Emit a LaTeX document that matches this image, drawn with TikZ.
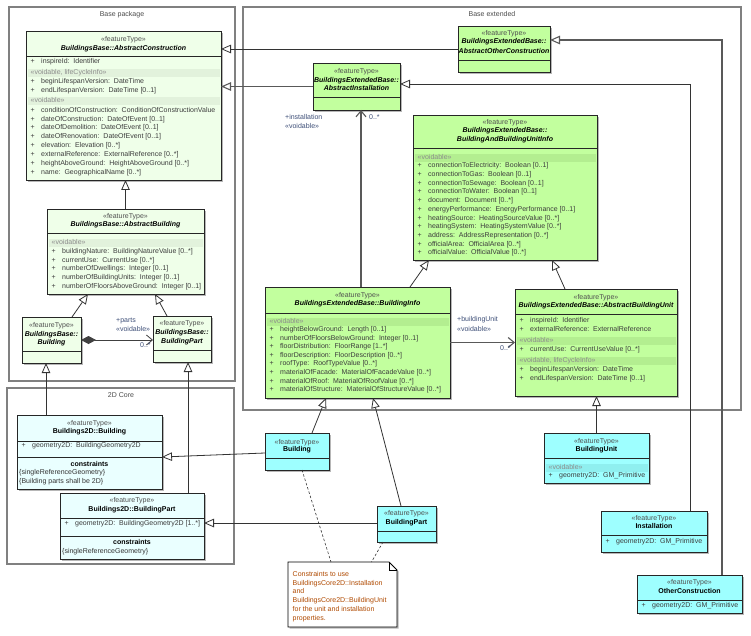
\documentclass[tikz,border=0pt]{standalone}
\usepackage{fontspec}
\setmainfont{Liberation Sans}
\usetikzlibrary{arrows.meta,shadows}

\definecolor{baseGreen}{HTML}{EFFFE9}
\definecolor{baseBand}{HTML}{E2F2DC}
\definecolor{extGreen}{HTML}{C2FF9E}
\definecolor{extBand}{HTML}{B3EE90}
\definecolor{coreCyan}{HTML}{EAFFFF}
\definecolor{featCyan}{HTML}{9EFFFF}
\definecolor{featBand}{HTML}{8FEFEF}
\definecolor{frameGray}{HTML}{808080}
\definecolor{attrText}{HTML}{3C3C3C}
\definecolor{stereoText}{HTML}{505050}
\definecolor{roleText}{HTML}{3E4F78}
\definecolor{noteText}{HTML}{B04A00}

\newcommand{\umlfont}{\fontsize{7}{8}\selectfont}
\newcommand{\attrline}[1]{\makebox[10.5pt][l]{+}#1}

\tikzset{
  cls/.style={draw=black!85, line width=0.9pt, anchor=north west, inner sep=0, outer sep=0,
    drop shadow={shadow xshift=1.6pt, shadow yshift=-1.6pt, fill=black!35, opacity=0.8}},
  sep/.style={draw=black!85, line width=0.9pt},
  pkg/.style={draw=frameGray, line width=1.3pt},
  txt/.style={inner sep=0, text height=5pt, text depth=1.4pt, font=\umlfont},
  pkglbl/.style={txt, text=black!70},
  stereo/.style={txt, text=stereoText},
  cname/.style={txt, font=\umlfont\bfseries\itshape},
  cnamer/.style={txt, font=\umlfont\bfseries},
  attr/.style={txt, anchor=west, text=attrText},
  sect/.style={txt, anchor=west, text=black!45},
  role/.style={txt, anchor=west, text=roleText},
  noteln/.style={txt, anchor=west, text=noteText},
  gen/.style={draw=black!80, line width=0.8pt, -{Triangle[length=10pt,width=8.5pt,fill=white]}},
  assoc/.style={draw=black!65, line width=1.1pt, -{Straight Barb[length=6pt,width=10pt]}},
  notelink/.style={draw=black!80, line width=0.6pt, dash pattern=on 2.5pt off 2pt}
}

\begin{document}
\begin{tikzpicture}[x=1pt, y=-1pt, font=\umlfont]
\fill[white] (0,0) rectangle (751,636);
\useasboundingbox (0,0) rectangle (751,636);

% packages
\draw[pkg] (9,7) rectangle (235,381);
\node[pkglbl] (basePkg) at (122,15) {Base package};
\draw[pkg] (243,7) rectangle (741,410);
\node[pkglbl] (extPkg) at (492,15) {Base extended};
\draw[pkg] (7,388) rectangle (234,564);
\node[pkglbl] (corePkg) at (121,396) {2D Core};

% BuildingsBase::AbstractConstruction
\node[cls, fill=baseGreen, minimum width=195, minimum height=149] (absCon) at (26,31) {};
\node[stereo] (absConSt) at (123.5,40) {«featureType»};
\node[cname] (absConNm) at (123.5,48.5) {BuildingsBase::AbstractConstruction};
\draw[sep] (26,56) -- (221,56);
\node[attr] (acId) at (30.5,62) {\attrline{inspireId:~~Identifier}};
\fill[baseBand] (27.5,69) rectangle (219.5,77);
\node[sect] (acS1) at (30.5,73) {«voidable, lifeCycleInfo»};
\foreach \y/\t [count=\i] in {82/{beginLifespanVersion:~~DateTime}, 91/{endLifespanVersion:~~DateTime [0..1]}}
  \node[attr] (acL\i) at (30.5,\y) {\attrline{\t}};
\fill[baseBand] (27.5,97) rectangle (219.5,105);
\node[sect] (acS2) at (30.5,101) {«voidable»};
\foreach \y/\t [count=\i] in {110.5/{conditionOfConstruction:~~ConditionOfConstructionValue},
    119.3/{dateOfConstruction:~~DateOfEvent [0..1]}, 128/{dateOfDemolition:~~DateOfEvent [0..1]},
    136.7/{dateOfRenovation:~~DateOfEvent [0..1]}, 145.7/{elevation:~~Elevation [0..*]},
    154.5/{externalReference:~~ExternalReference [0..*]}, 163.3/{heightAboveGround:~~HeightAboveGround [0..*]},
    172.3/{name:~~GeographicalName [0..*]}}
  \node[attr] (acV\i) at (30.5,\y) {\attrline{\t}};

% BuildingsBase::AbstractBuilding
\node[cls, fill=baseGreen, minimum width=157, minimum height=85] (absBld) at (47,209) {};
\node[stereo] (absBldSt) at (125.5,216.7) {«featureType»};
\node[cname] (absBldNm) at (125.5,225) {BuildingsBase::AbstractBuilding};
\draw[sep] (47,233) -- (204,233);
\fill[baseBand] (48.5,238.5) rectangle (202.5,246.5);
\node[sect] (abS1) at (51.5,242.5) {«voidable»};
\foreach \y/\t [count=\i] in {251.7/{buildingNature:~~BuildingNatureValue [0..*]}, 260.3/{currentUse:~~CurrentUse [0..*]},
    269/{numberOfDwellings:~~Integer [0..1]}, 277.7/{numberOfBuildingUnits:~~Integer [0..1]},
    286.5/{numberOfFloorsAboveGround:~~Integer [0..1]}}
  \node[attr] (abV\i) at (51.5,\y) {\attrline{\t}};

% BuildingsBase::Building and BuildingPart
\node[cls, fill=baseGreen, minimum width=59, minimum height=46] (bldBase) at (22,317) {};
\node[stereo] (bldBaseSt) at (51.5,326) {«featureType»};
\node[cname] (bldBaseNm) at (51.5,334.5) {BuildingsBase::};
\node[cname] (bldBaseNm2) at (51.5,343) {Building};
\draw[sep] (22,351) -- (81,351);
\node[cls, fill=baseGreen, minimum width=58, minimum height=46] (bpBase) at (153,316) {};
\node[stereo] (bpBaseSt) at (182,324) {«featureType»};
\node[cname] (bpBaseNm) at (182,332.5) {BuildingsBase::};
\node[cname] (bpBaseNm2) at (182,341.5) {BuildingPart};
\draw[sep] (153,350) -- (211,350);

% Buildings2D::Building
\node[cls, fill=coreCyan, minimum width=145, minimum height=74] (bld2D) at (17,415) {};
\node[stereo] (bld2DSt) at (89.5,423.5) {«featureType»};
\node[cnamer] (bld2DNm) at (89.5,432) {Buildings2D::Building};
\draw[sep] (17,441) -- (162,441);
\node[attr] (b2Geom) at (21.5,446) {\attrline{geometry2D:~~BuildingGeometry2D}};
\draw[sep] (17,457) -- (162,457);
\node[cnamer] (b2Con) at (89.5,464.5) {constraints};
\node[attr, text=black!80] (b2C1) at (19,473) {\{singleReferenceGeometry\}};
\node[attr, text=black!80] (b2C2) at (19,481.7) {\{Building parts shall be 2D\}};

% Buildings2D::BuildingPart
\node[cls, fill=coreCyan, minimum width=144, minimum height=66] (bp2D) at (60,493) {};
\node[stereo] (bp2DSt) at (132,501) {«featureType»};
\node[cnamer] (bp2DNm) at (132,510) {Buildings2D::BuildingPart};
\draw[sep] (60,518) -- (204,518);
\node[attr] (p2Geom) at (64.5,524) {\attrline{geometry2D:~~BuildingGeometry2D [1..*]}};
\draw[sep] (60,536) -- (204,536);
\node[cnamer] (p2Con) at (132,543) {constraints};
\node[attr, text=black!80] (p2C1) at (62,551.7) {\{singleReferenceGeometry\}};

% BuildingsExtendedBase::AbstractOtherConstruction
\node[cls, fill=extGreen, minimum width=92, minimum height=46] (aoc) at (458,26) {};
\node[stereo] (aocSt) at (504,33.5) {«featureType»};
\node[cname] (aocNm) at (504,42) {BuildingsExtendedBase::};
\node[cname] (aocNm2) at (504,51.5) {AbstractOtherConstruction};
\draw[sep] (458,60) -- (550,60);

% BuildingsExtendedBase::AbstractInstallation
\node[cls, fill=extGreen, minimum width=87, minimum height=47] (ainst) at (313,63) {};
\node[stereo] (ainstSt) at (356.5,71.7) {«featureType»};
\node[cname] (ainstNm) at (356.5,80.3) {BuildingsExtendedBase::};
\node[cname] (ainstNm2) at (356.5,89) {AbstractInstallation};
\draw[sep] (313,97) -- (400,97);

% BuildingsExtendedBase::BuildingAndBuildingUnitInfo
\node[cls, fill=extGreen, minimum width=184, minimum height=145] (bbui) at (413,115) {};
\node[stereo] (bbuiSt) at (505,122.7) {«featureType»};
\node[cname] (bbuiNm) at (505,130.7) {BuildingsExtendedBase::};
\node[cname] (bbuiNm2) at (505,140) {BuildingAndBuildingUnitInfo};
\draw[sep] (413,148) -- (597,148);
\fill[extBand] (414.5,154) rectangle (595.5,162);
\node[sect] (buS1) at (417.5,158) {«voidable»};
\foreach \y/\t [count=\i] in {166/{connectionToElectricity:~~Boolean [0..1]}, 174.7/{connectionToGas:~~Boolean [0..1]},
    183.3/{connectionToSewage:~~Boolean [0..1]}, 192/{connectionToWater:~~Boolean [0..1]},
    200.7/{document:~~Document [0..*]}, 209.3/{energyPerformance:~~EnergyPerformance [0..1]},
    218.3/{heatingSource:~~HeatingSourceValue [0..*]}, 226.7/{heatingSystem:~~HeatingSystemValue [0..*]},
    235.7/{address:~~AddressRepresentation [0..*]}, 244.7/{officialArea:~~OfficialArea [0..*]},
    253/{officialValue:~~OfficialValue [0..*]}}
  \node[attr] (buV\i) at (417.5,\y) {\attrline{\t}};

% BuildingsExtendedBase::BuildingInfo
\node[cls, fill=extGreen, minimum width=185, minimum height=111] (binfo) at (265,287) {};
\node[stereo] (binfoSt) at (357.5,295.3) {«featureType»};
\node[cname] (binfoNm) at (357.5,304) {BuildingsExtendedBase::BuildingInfo};
\draw[sep] (265,313) -- (450,313);
\fill[extBand] (266.5,318) rectangle (448.5,326);
\node[sect] (biS1) at (269.5,321.7) {«voidable»};
\foreach \y/\t [count=\i] in {330/{heightBelowGround:~~Length [0..1]}, 338.3/{numberOfFloorsBelowGround:~~Integer [0..1]},
    347/{floorDistribution:~~FloorRange [1..*]}, 355.7/{floorDescription:~~FloorDescription [0..*]},
    364/{roofType:~~RoofTypeValue [0..*]}, 372.7/{materialOfFacade:~~MaterialOfFacadeValue [0..*]},
    381.3/{materialOfRoof:~~MaterialOfRoofValue [0..*]}, 389.7/{materialOfStructure:~~MaterialOfStructureValue [0..*]}}
  \node[attr] (biV\i) at (269.5,\y) {\attrline{\t}};

% BuildingsExtendedBase::AbstractBuildingUnit
\node[cls, fill=extGreen, minimum width=162, minimum height=107] (abu) at (515,289) {};
\node[stereo] (abuSt) at (596,297.3) {«featureType»};
\node[cname] (abuNm) at (596,305.7) {BuildingsExtendedBase::AbstractBuildingUnit};
\draw[sep] (515,314) -- (677,314);
\node[attr] (auId) at (519.5,321) {\attrline{inspireId:~~Identifier}};
\node[attr] (auRef) at (519.5,330) {\attrline{externalReference:~~ExternalReference}};
\fill[extBand] (516.5,336.5) rectangle (675.5,344.5);
\node[sect] (auS1) at (519.5,340.7) {«voidable»};
\node[attr] (auUse) at (519.5,349.3) {\attrline{currentUse:~~CurrentUseValue [0..*]}};
\fill[extBand] (516.5,356.5) rectangle (675.5,364.5);
\node[sect] (auS2) at (519.5,360.7) {«voidable, lifeCycleInfo»};
\node[attr] (auL1) at (519.5,369.3) {\attrline{beginLifespanVersion:~~DateTime}};
\node[attr] (auL2) at (519.5,378.3) {\attrline{endLifespanVersion:~~DateTime [0..1]}};

% feature types outside the packages
\node[cls, fill=featCyan, minimum width=64, minimum height=37] (bldC) at (265,433) {};
\node[stereo] (bldCSt) at (297,442.7) {«featureType»};
\node[cnamer] (bldCNm) at (297,450) {Building};
\draw[sep] (265,458) -- (329,458);

\node[cls, fill=featCyan, minimum width=59, minimum height=36] (bpC) at (377,506) {};
\node[stereo] (bpCSt) at (406.5,514) {«featureType»};
\node[cnamer] (bpCNm) at (406.5,523) {BuildingPart};
\draw[sep] (377,531) -- (436,531);

\node[cls, fill=featCyan, minimum width=105, minimum height=50] (bu) at (544,433) {};
\node[stereo] (buSt) at (596.5,441.7) {«featureType»};
\node[cnamer] (buNm) at (596.5,450) {BuildingUnit};
\draw[sep] (544,458) -- (649,458);
\fill[featBand] (545.5,463.5) rectangle (647.5,471.5);
\node[sect] (buCS) at (548.5,467.7) {«voidable»};
\node[attr] (buGeom) at (548.5,475.7) {\attrline{geometry2D:~~GM\_Primitive}};

\node[cls, fill=featCyan, minimum width=106, minimum height=41] (inst) at (601,511) {};
\node[stereo] (instSt) at (654,518.3) {«featureType»};
\node[cnamer] (instNm) at (654,526.7) {Installation};
\draw[sep] (601,535) -- (707,535);
\node[attr] (instGeom) at (605.5,542) {\attrline{geometry2D:~~GM\_Primitive}};

\node[cls, fill=featCyan, minimum width=105, minimum height=38] (oc) at (637,575) {};
\node[stereo] (ocSt) at (689.5,582.7) {«featureType»};
\node[cnamer] (ocNm) at (689.5,591.3) {OtherConstruction};
\draw[sep] (637,600) -- (742,600);
\node[attr] (ocGeom) at (641.5,606) {\attrline{geometry2D:~~GM\_Primitive}};

% note
\node[minimum width=109, minimum height=65, anchor=north west, inner sep=0, outer sep=0] (note) at (288,562) {};
\draw[fill=white, line width=0.8pt, drop shadow={shadow xshift=1.6pt, shadow yshift=-1.6pt, fill=black!35, opacity=0.8}]
  (note.north west) -- ([xshift=-8]note.north east) -- ([yshift=-8]note.north east)
  -- (note.south east) -- (note.south west) -- cycle;
\draw[line width=0.6pt] ([xshift=-8]note.north east) -- ([xshift=-8,yshift=-8]note.north east) -- ([yshift=-8]note.north east);
\foreach \y/\t [count=\i] in {575/{Constraints to use}, 583.5/{BuildingsCore2D::Installation}, 592/{and},
    600.5/{BuildingsCore2D::BuildingUnit}, 609.5/{for the unit and installation}, 618.5/{properties.}}
  \node[noteln] (noteL\i) at (292.5,\y) {\t};

% generalizations
\draw[gen] (absBld.north) -- (absBld.north |- absCon.south);
\draw[gen] ([xshift=20.5]bldBase.north) -- ([xshift=-37.5]absBld.south);
\draw[gen] ([xshift=-15]bpBase.north) -- ([xshift=29.5]absBld.south);
\draw[gen] ([xshift=29]bld2D.north west) -- ([xshift=-5.5]bldBase.south);
\draw[gen] ([xshift=128]bp2D.north west) -- ([xshift=6]bpBase.south);
\draw[gen] ([yshift=-1.5]bldC.west) -- ([yshift=-5]bld2D.east);
\draw[gen] ([yshift=1]bpC.west) -- ([yshift=3]bp2D.east);
\draw[gen] ([xshift=15]bldC.north) -- ([xshift=-31.5]binfo.south);
\draw[gen] ([xshift=-5.5]bpC.north) -- ([xshift=15.5]binfo.south);
\draw[gen] ([xshift=52.5]binfo.north) -- ([xshift=-76]bbui.south);
\draw[gen] ([xshift=-31]abu.north) -- ([xshift=47]bbui.south);
\draw[gen] (bu.north) -- (bu.north |- abu.south);
\draw[gen] (aoc.west) -- ([yshift=56.5]absCon.east);
\draw[gen, draw=black!65, line width=1.1pt] (ainst.west) -- ([yshift=19]absCon.east);
\draw[gen] ([xshift=36]inst.north) |- ([yshift=2.5]ainst.east);
\draw[gen, draw=black!65, line width=1.1pt] ([xshift=32.5]oc.north) |- ([yshift=9]aoc.east);

% associations
\draw[draw=black!75, line width=0.8pt, {Diamond[length=15pt,width=8pt]}-{Straight Barb[length=6pt,width=10pt]}]
  (bldBase.east) -- (bldBase.east -| bpBase.west);
\node[role] (partRole) at (116,321) {+parts};
\node[role] (partVoid) at (116,329.5) {«voidable»};
\node[role] (partMult) at (140,345.5) {0..*};
\draw[assoc] ([xshift=3.5]binfo.north) -- ([xshift=4.5]ainst.south);
\node[role] (instRole) at (285,118) {+installation};
\node[role] (instVoid) at (285,127) {«voidable»};
\node[role] (instMult) at (369,118) {0..*};
\draw[assoc] (binfo.east) -- (abu.west);
\node[role] (unitRole) at (457,320) {+buildingUnit};
\node[role] (unitVoid) at (457,330) {«voidable»};
\node[role] (unitMult) at (500,349) {0..*};

% links to the note
\draw[notelink] ([xshift=5]bldC.south) -- ([xshift=-11.5]note.north);
\draw[notelink] ([xshift=-23.5]bpC.south) -- ([xshift=29]note.north);
\end{tikzpicture}
\end{document}
